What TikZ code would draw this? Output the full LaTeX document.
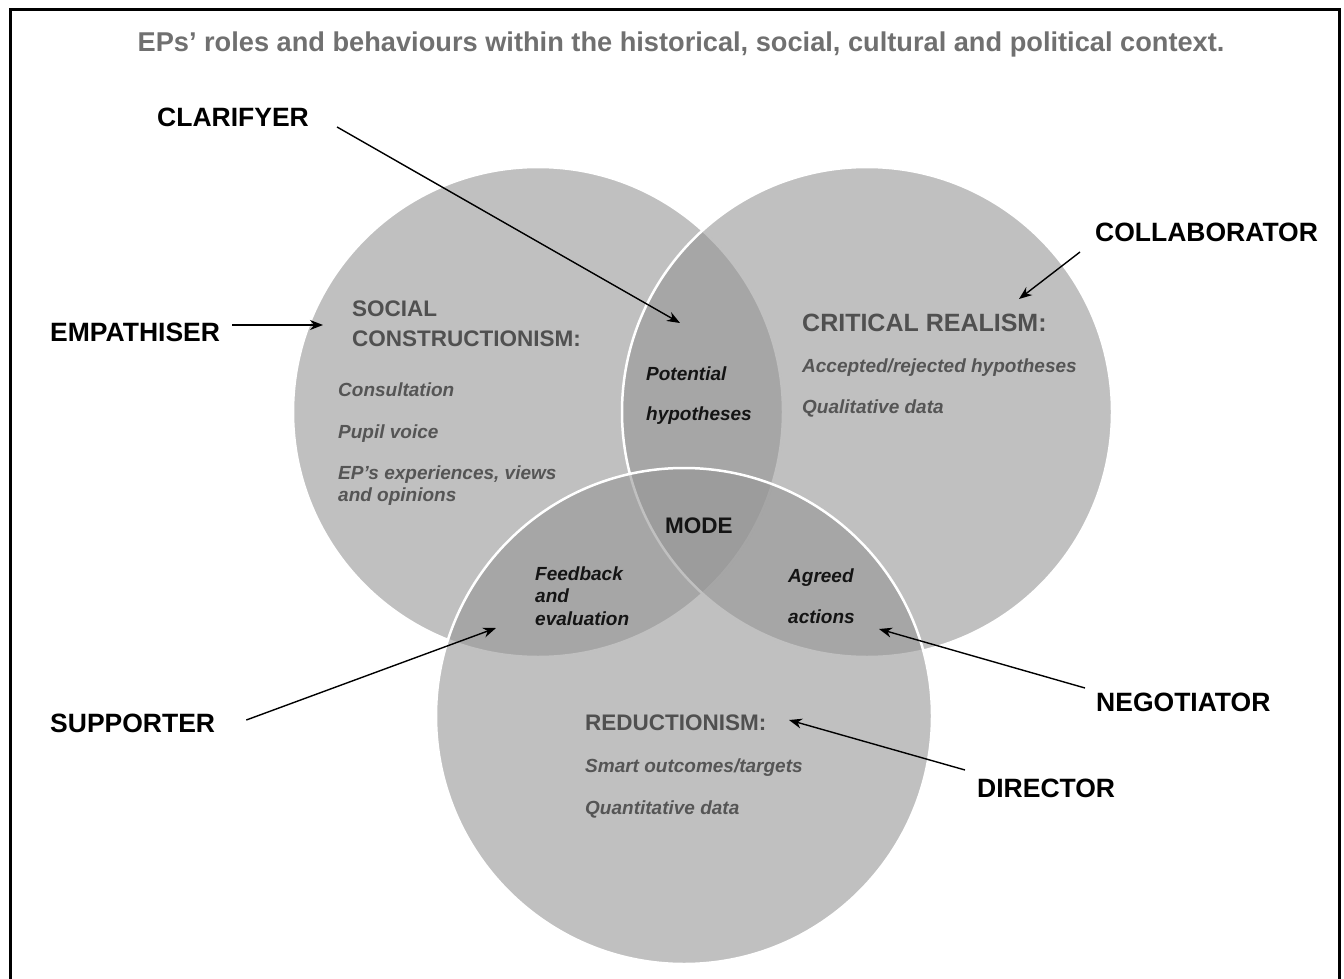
\documentclass[tikz,border=0pt]{standalone}
\usepackage{fontspec}
\setmainfont{Liberation Sans}
\usetikzlibrary{arrows.meta}
\definecolor{vennfill}{RGB}{148,148,148}
\definecolor{titlegray}{RGB}{112,112,112}
\definecolor{headgray}{RGB}{80,80,80}
\definecolor{itgray}{RGB}{85,85,85}
\definecolor{darktxt}{RGB}{20,20,20}
\tikzset{
  venn/.style={fill=vennfill, fill opacity=0.59, draw=white, line width=2.5pt},
  role/.style={anchor=base west, inner sep=0pt, font=\fontsize{26.5}{30}\selectfont\bfseries, text=black},
  head/.style={anchor=base west, inner sep=0pt, font=\fontsize{22.5}{30}\selectfont\bfseries, text=headgray},
  item/.style={anchor=base west, inner sep=0pt, font=\fontsize{19}{22}\selectfont\bfseries\itshape, text=itgray},
  lens/.style={anchor=base west, inner sep=0pt, font=\fontsize{19}{22}\selectfont\bfseries\itshape, text=darktxt},
  arr/.style={line width=1.4pt, -{Stealth[length=13pt,width=10pt]}},
}
\begin{document}
\begin{tikzpicture}[x=1pt,y=-1pt]
\useasboundingbox (0,0) rectangle (1344,979);
\begin{scope}
\clip (0,0) rectangle (1344,979);
\draw[line width=3pt] (10,995) -- (10,10) -- (1339,10) -- (1339,995);
\end{scope}
% circles
\path[venn] (538,412) circle (245);
\path[venn] (867,412) circle (245);
\path[venn] (684,716) circle (248);
% title
\node[anchor=base, inner sep=0pt, font=\fontsize{27.2}{30}\selectfont\bfseries, text=titlegray] (title) at (681,52) {EPs’ roles and behaviours within the historical, social, cultural and political context.};
% role labels
\node[role] (clar) at (157,127) {CLARIFYER};
\node[role] (coll) at (1095,241) {COLLABORATOR};
\node[role] (emp) at (50,341) {EMPATHISER};
\node[role] (supp) at (50,732) {SUPPORTER};
\node[role] (nego) at (1096,711) {NEGOTIATOR};
\node[role] (dir) at (977,797) {DIRECTOR};
% headings
\node[head] (sc1) at (352,316) {SOCIAL};
\node[head] (sc2) at (352,346) {CONSTRUCTIONISM:};
\node[head, font=\fontsize{25}{30}\selectfont\bfseries] (cr) at (802,331) {CRITICAL REALISM:};
\node[head] (red) at (585,730) {REDUCTIONISM:};
% items
\node[item] (i1) at (338,396) {Consultation};
\node[item] (i2) at (338,438) {Pupil voice};
\node[item] (i3) at (338,479) {EP’s experiences, views};
\node[item] (i4) at (338,501) {and opinions};
\node[item] (i5) at (802,372) {Accepted/rejected hypotheses};
\node[item] (i6) at (802,413) {Qualitative data};
\node[item] (i7) at (585,772) {Smart outcomes/targets};
\node[item] (i8) at (585,814) {Quantitative data};
% lens texts
\node[lens] (pot1) at (646,380) {Potential};
\node[lens] (pot2) at (646,420) {hypotheses};
\node[anchor=base west, inner sep=0pt, font=\fontsize{22.5}{26}\selectfont\bfseries, text=darktxt] (mode) at (665,533) {MODE};
\node[lens] (fb1) at (535,580) {Feedback};
\node[lens] (fb2) at (535,602) {and};
\node[lens] (fb3) at (535,625) {evaluation};
\node[lens] (ag1) at (788,582) {Agreed};
\node[lens] (ag2) at (788,623) {actions};
% arrow ends
\coordinate (clarT) at (680,323);
\coordinate (collT) at (1019,299);
\coordinate (empT) at (323,325);
\coordinate (suppT) at (496,628);
\coordinate (negoT) at (879,629);
\coordinate (dirT) at (789,720);
\draw[arr] ([xshift=28pt,yshift=0pt]clar.base east) -- (clarT);
\draw[arr] ([xshift=-15pt,yshift=-11pt]coll.base west) -- (collT);
\draw[arr] ([xshift=12pt,yshift=16pt]emp.base east) -- (empT);
\draw[arr] ([xshift=31pt,yshift=12pt]supp.base east) -- (suppT);
\draw[arr] ([xshift=-11pt,yshift=23pt]nego.base west) -- (negoT);
\draw[arr] ([xshift=-12pt,yshift=27pt]dir.base west) -- (dirT);
\end{tikzpicture}
\end{document}
